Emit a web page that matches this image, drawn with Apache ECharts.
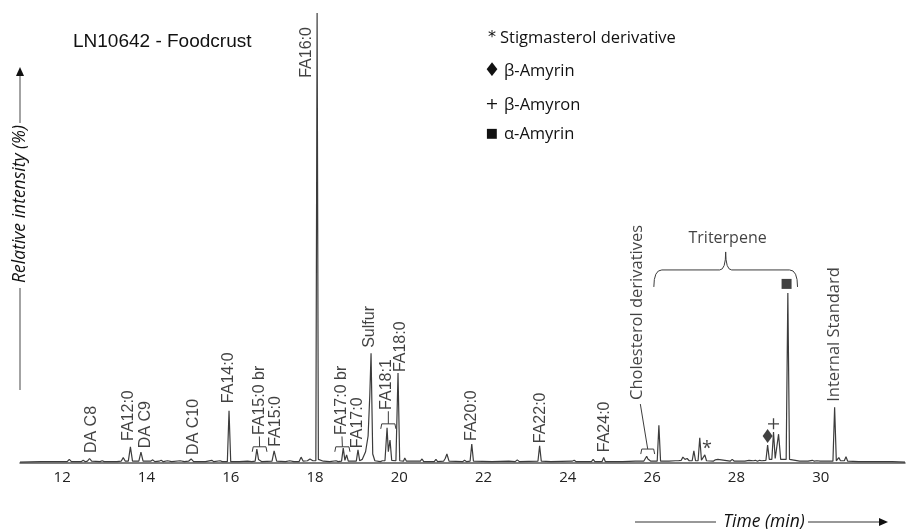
<!DOCTYPE html>
<html>
<head>
<meta charset="utf-8">
<title>LN10642 - Foodcrust</title>
<script src="https://cdn.jsdelivr.net/npm/echarts@6/dist/echarts.min.js"></script>
<style>
  html, body { margin: 0; padding: 0; background: #fff; }
  #chart { width: 909px; height: 529px; }
</style>
</head>
<body>
<div id="chart"></div>
<script>
// chromatogram trace, [time (min), relative intensity (%)]
const chromatogram = [
  [11.0, 0.2], [11.5, 0.3], [11.9, 0.3], [12.12, 0.3], [12.17, 0.8], [12.22, 0.3],
  [12.45, 0.3], [12.5, 0.6], [12.55, 0.3], [12.6, 0.4], [12.65, 1.0], [12.7, 0.4],
  [12.9, 0.3], [12.95, 0.5], [13.0, 0.3], [13.3, 0.3], [13.4, 0.4], [13.45, 1.2], [13.5, 0.4],
  [13.57, 0.4], [13.62, 3.6], [13.67, 0.4], [13.82, 0.4], [13.87, 2.4], [13.92, 0.4],
  [14.1, 0.4], [14.15, 0.7], [14.2, 0.3], [14.3, 0.4], [14.35, 0.6], [14.4, 0.3],
  [14.5, 0.5], [14.6, 0.3], [14.8, 0.5], [14.9, 0.3], [15.0, 0.4], [15.06, 0.9], [15.12, 0.3],
  [15.4, 0.3], [15.55, 0.6], [15.6, 0.3], [15.75, 0.5], [15.8, 0.3],
  [15.92, 0.3], [15.96, 11.6], [16.0, 0.3], [16.2, 0.3], [16.4, 0.4], [16.5, 0.3],
  [16.58, 0.4], [16.62, 3.1], [16.66, 0.8], [16.7, 1.1], [16.74, 0.3],
  [16.98, 0.4], [17.03, 2.7], [17.09, 0.4], [17.3, 0.3], [17.4, 0.5], [17.5, 0.3],
  [17.62, 0.3], [17.67, 1.3], [17.72, 0.4], [17.82, 0.5], [17.88, 0.9], [17.95, 0.5],
  [18.02, 0.5], [18.05, 100], [18.08, 0.8], [18.2, 0.4], [18.35, 0.3], [18.5, 0.5], [18.55, 0.3],
  [18.63, 0.4], [18.67, 3.3], [18.71, 0.6], [18.75, 1.8], [18.79, 0.4],
  [18.98, 0.4], [19.02, 2.9], [19.06, 0.5],
  [19.12, 0.8], [19.2, 2.5], [19.26, 6.0], [19.3, 15.0], [19.33, 24.4], [19.37, 2.0], [19.42, 0.5],
  [19.55, 0.3], [19.6, 0.5], [19.66, 0.5], [19.71, 7.8], [19.74, 2.5], [19.78, 5.1], [19.82, 0.6],
  [19.92, 0.5], [19.97, 20.0], [20.01, 0.5], [20.1, 0.4], [20.13, 1.1], [20.17, 0.4],
  [20.5, 0.4], [20.54, 0.9], [20.58, 0.3], [20.83, 0.3], [20.87, 0.8], [20.91, 0.3],
  [21.05, 0.4], [21.09, 1.0], [21.13, 2.0], [21.18, 0.4], [21.5, 0.3], [21.55, 0.6], [21.6, 0.3],
  [21.68, 0.4], [21.72, 4.2], [21.76, 0.4], [22.2, 0.3], [22.6, 0.4], [22.75, 0.3], [22.8, 0.7], [22.85, 0.3],
  [23.29, 0.4], [23.33, 3.8], [23.37, 0.4], [23.6, 0.3], [24.1, 0.4], [24.15, 0.6], [24.2, 0.3],
  [24.56, 0.3], [24.6, 0.8], [24.64, 0.3], [24.81, 0.3], [24.85, 1.2], [24.89, 0.3],
  [25.3, 0.3], [25.6, 0.4], [25.8, 0.4], [25.87, 1.5], [25.9, 0.9], [25.93, 1.1], [25.97, 0.4],
  [26.12, 0.4], [26.16, 8.4], [26.2, 0.4], [26.4, 0.4], [26.55, 0.5], [26.58, 0.8], [26.62, 0.5],
  [26.69, 0.6], [26.73, 1.3], [26.78, 0.8], [26.83, 1.0], [26.88, 0.5],
  [26.95, 0.5], [26.99, 2.7], [27.03, 0.5], [27.09, 0.5], [27.13, 5.6], [27.17, 0.6],
  [27.21, 0.7], [27.25, 1.8], [27.29, 0.5], [27.45, 0.4], [27.5, 0.7], [27.56, 0.8], [27.6, 0.4],
  [27.85, 0.4], [27.9, 0.8], [27.95, 0.4], [28.2, 0.4], [28.3, 0.6], [28.4, 0.5], [28.45, 0.6],
  [28.5, 0.4], [28.55, 0.6], [28.6, 0.5], [28.7, 0.6], [28.74, 4.0], [28.78, 0.8],
  [28.84, 0.8], [28.88, 6.9], [28.92, 1.0], [28.96, 1.0], [29.0, 6.4], [29.05, 0.8],
  [29.18, 0.8], [29.22, 37.8], [29.26, 0.8], [29.5, 0.4], [29.7, 0.4], [29.8, 0.6], [29.85, 0.4],
  [29.91, 0.5], [29.95, 0.9], [29.99, 0.4], [30.29, 0.4], [30.33, 12.4], [30.37, 0.5],
  [30.4, 0.5], [30.43, 1.2], [30.47, 0.5], [30.56, 0.5], [30.6, 1.4], [30.64, 0.4],
  [30.9, 0.3], [31.3, 0.3], [31.7, 0.3], [32.0, 0.2]
]

// peak labels: name, retention time and the level where the text starts
const peakNames = ['DA C8', 'FA12:0', 'DA C9', 'DA C10', 'FA14:0', 'FA15:0 br', 'FA15:0', 'FA16:0',
  'FA17:0 br', 'FA17:0', 'Sulfur', 'FA18:1', 'FA18:0', 'FA20:0', 'FA22:0', 'FA24:0',
  'Cholesterol derivatives', 'Internal Standard']
const peakTimes = [12.69, 13.57, 13.97, 15.13, 15.94, 16.68, 17.07, 17.79,
  18.64, 19.0, 19.3, 19.7, 20.04, 21.72, 23.36, 24.88, 25.64, 30.33]
const peakLevels = [2.2, 4.9, 3.3, 1.8, 13.3, 6.2, 3.6, 85.6,
  6.2, 3.3, 25.6, 11.8, 20.2, 4.9, 4.4, 2.4, 14.0, 13.6]

// grouping brackets: [start, end, level, tip time, tip level]
const brackets = [
  [16.51, 16.86, 3.6, 16.68, 5.9],
  [18.47, 18.83, 3.6, 18.64, 5.9],
  [19.56, 19.92, 8.7, 19.74, 11.5],
  [25.73, 26.06, 3.1, 25.72, 13.1]
]
// triterpene brace: [start, end, level, tip level]
const braceSpan = [26.04, 29.45, 42.9, 46.9]
const braceLabel = ['Triterpene', 27.79, 50.0]

// compound markers
const markerSymbols = ['rect', 'diamond', 'plus', 'star']
const markerTimes = [29.19, 28.74, 28.88, 27.3]
const markerLevels = [39.8, 6.0, 8.7, 3.1]

// legend lines
const legendMarks = ['*', '\u2666', '+', '\u25a0']
const legendNames = ['Stigmasterol derivative', '\u03b2-Amyrin', '\u03b2-Amyron', '\u03b1-Amyrin']
const timeTicks = [12, 14, 16, 18, 20, 22, 24, 26, 28, 30]

const chart = echarts.init(document.getElementById('chart'), null, { renderer: 'canvas' })

const ink = '#3c3c3c'
const labelFont = '"Liberation Sans", Arial, sans-serif'
const noteFont = '"Open Sans", "Noto Sans", sans-serif'
const legendRows = [38, 71, 105, 134]
const legendMarkSizes = [16, 19, 16, 13]
const calibriLike = ['Cholesterol derivatives', 'Internal Standard']

function bracketItem(params, api) {
  const a = api.coord([api.value(0), api.value(2)])
  const b = api.coord([api.value(1), api.value(2)])
  const mid = (a[0] + b[0]) / 2
  const tip = api.coord([api.value(3), api.value(4)])
  return {
    type: 'group',
    children: [
      {
        type: 'polyline',
        shape: { points: [[a[0], a[1] + 5], [a[0] + 1, a[1]], [b[0] - 1, b[1]], [b[0], b[1] + 5]] },
        style: { stroke: ink, fill: null, lineWidth: 1 }
      },
      {
        type: 'line',
        shape: { x1: mid, y1: a[1], x2: tip[0], y2: tip[1] },
        style: { stroke: ink, lineWidth: 1 }
      }
    ]
  }
}

function braceItem(params, api) {
  const a = api.coord([api.value(0), api.value(2)])
  const b = api.coord([api.value(1), api.value(2)])
  const t = api.coord([(api.value(0) + api.value(1)) / 2, api.value(3)])
  const y = a[1]
  const m = t[0]
  return {
    type: 'path',
    shape: {
      pathData: `M${a[0]} ${y + 17} Q${a[0]} ${y} ${a[0] + 8} ${y} L${m - 6} ${y} Q${m} ${y} ${m} ${t[1]}` +
        ` Q${m} ${y} ${m + 6} ${y} L${b[0] - 8} ${y} Q${b[0]} ${y} ${b[0]} ${y + 17}`
    },
    style: { stroke: ink, fill: null, lineWidth: 1 }
  }
}

const plusPath = 'path://M4.4,0 L5.6,0 L5.6,4.4 L10,4.4 L10,5.6 L5.6,5.6 L5.6,10 L4.4,10 L4.4,5.6 L0,5.6 L0,4.4 L4.4,4.4 Z'

function markerItem(s, i) {
  const item = { name: s, value: [markerTimes[i], markerLevels[i]] }
  if (s === 'rect') {
    item.symbol = 'rect'
    item.symbolSize = 10
  } else if (s === 'diamond') {
    item.symbol = 'diamond'
    item.symbolSize = [10, 14]
  } else if (s === 'plus') {
    item.symbol = plusPath
    item.symbolSize = 11
  } else {
    item.symbol = 'circle'
    item.symbolSize = 1
    item.itemStyle = { color: 'rgba(0,0,0,0)' }
    item.label = {
      show: true, formatter: '*', position: 'inside',
      fontSize: 18, fontFamily: noteFont, color: '#111'
    }
  }
  return item
}

const option = {
  backgroundColor: '#fff',
  animation: false,
  grid: { left: 20, right: 4, top: 13, bottom: 66 },
  xAxis: {
    type: 'value',
    min: 11,
    max: 32,
    axisLine: { show: true, lineStyle: { color: '#555', width: 1.5 } },
    axisTick: { show: false },
    splitLine: { show: false },
    axisLabel: {
      customValues: timeTicks,
      color: '#222',
      fontSize: 15,
      fontFamily: noteFont,
      margin: 7
    }
  },
  yAxis: {
    type: 'value',
    min: 0,
    max: 100,
    show: false
  },
  graphic: [
    {
      type: 'text', left: 73, top: 32,
      style: { text: 'LN10642 - Foodcrust', font: `19px ${labelFont}`, fill: '#111' }
    },
    ...legendMarks.map((mark, i) => ({
      type: 'text', x: 492, y: legendRows[i],
      style: {
        text: mark, font: `${legendMarkSizes[i]}px "DejaVu Sans", ${noteFont}`, fill: '#111',
        align: 'center', verticalAlign: 'middle'
      }
    })),
    ...legendNames.map((name, i) => ({
      type: 'text', x: i === 0 ? 500 : 504, y: legendRows[i],
      style: {
        text: name, font: `16.5px ${noteFont}`, fill: '#111',
        align: 'left', verticalAlign: 'middle'
      }
    })),
    {
      type: 'text', x: 20, y: 204, rotation: Math.PI / 2,
      style: {
        text: 'Relative intensity (%)', font: `italic 17.5px ${noteFont}`, fill: '#111',
        align: 'center', verticalAlign: 'middle'
      }
    },
    { type: 'line', shape: { x1: 20, y1: 123, x2: 20, y2: 74 }, style: { stroke: '#666', lineWidth: 1.2 } },
    { type: 'polygon', shape: { points: [[16, 76], [24, 76], [20, 67]] }, style: { fill: '#111' } },
    { type: 'line', shape: { x1: 20, y1: 288, x2: 20, y2: 390 }, style: { stroke: '#666', lineWidth: 1.2 } },
    {
      type: 'text', x: 764, y: 522,
      style: {
        text: 'Time (min)', font: `italic 17.5px ${noteFont}`, fill: '#111',
        align: 'center', verticalAlign: 'middle'
      }
    },
    { type: 'line', shape: { x1: 635, y1: 522, x2: 716, y2: 522 }, style: { stroke: '#333', lineWidth: 1.2 } },
    { type: 'line', shape: { x1: 808, y1: 522, x2: 880, y2: 522 }, style: { stroke: '#333', lineWidth: 1.2 } },
    { type: 'polygon', shape: { points: [[879, 518], [879, 526], [888, 522]] }, style: { fill: '#111' } }
  ],
  series: [
    {
      type: 'line',
      data: chromatogram,
      showSymbol: false,
      symbol: 'none',
      lineStyle: { color: ink, width: 1.2 },
      z: 2
    },
    {
      type: 'scatter',
      data: peakNames.map((name, i) => ({
        name,
        value: [peakTimes[i], peakLevels[i]],
        label: calibriLike.includes(name) ? { fontFamily: noteFont, fontSize: 16.5 } : undefined
      })),
      symbolSize: 1,
      itemStyle: { color: 'rgba(0,0,0,0)' },
      label: {
        show: true,
        formatter: '{b}',
        position: 'inside',
        rotate: 90,
        align: 'left',
        verticalAlign: 'middle',
        fontSize: 16,
        fontFamily: labelFont,
        color: '#111'
      },
      z: 3
    },
    {
      type: 'custom',
      renderItem: bracketItem,
      data: brackets,
      z: 3
    },
    {
      type: 'custom',
      renderItem: braceItem,
      data: [braceSpan],
      z: 3
    },
    {
      type: 'scatter',
      data: [{ name: braceLabel[0], value: [braceLabel[1], braceLabel[2]] }],
      symbolSize: 1,
      itemStyle: { color: 'rgba(0,0,0,0)' },
      label: {
        show: true,
        formatter: '{b}',
        position: 'inside',
        fontSize: 16,
        fontFamily: noteFont,
        color: '#111'
      },
      z: 3
    },
    {
      type: 'scatter',
      data: markerSymbols.map(markerItem),
      itemStyle: { color: '#111' },
      z: 4
    }
  ]
}

chart.setOption(option)

window.addEventListener('resize', () => chart.resize())
</script>
</body>
</html>
